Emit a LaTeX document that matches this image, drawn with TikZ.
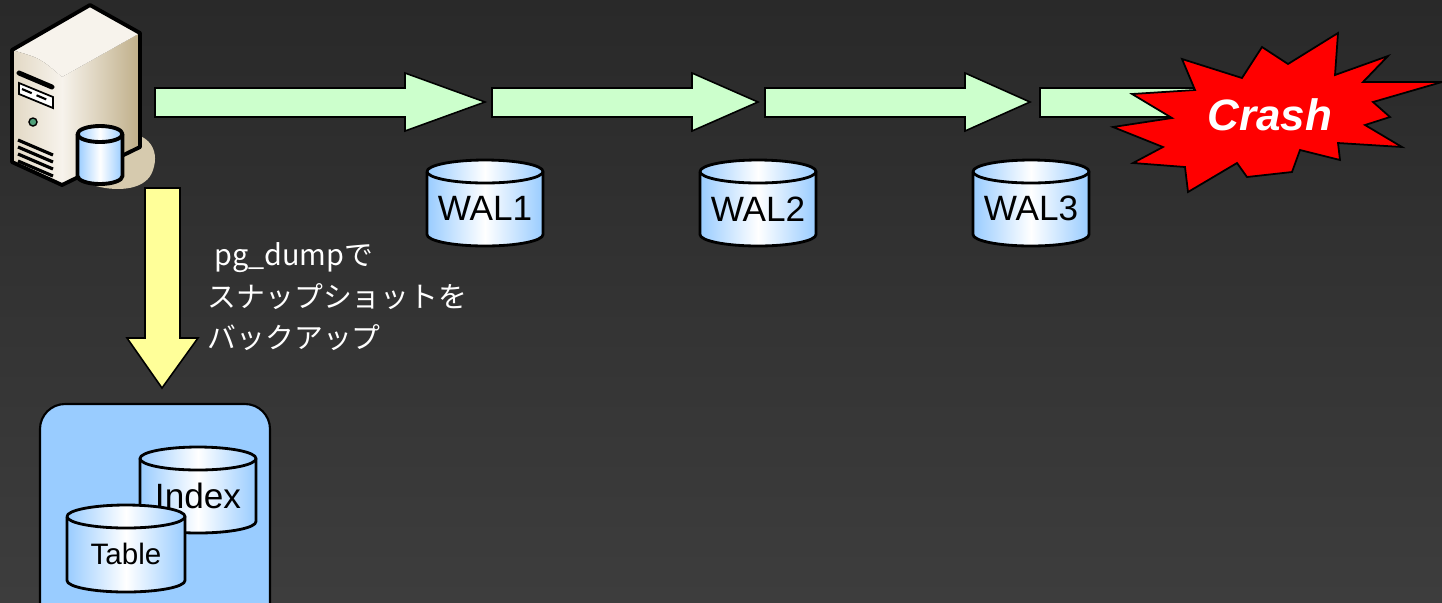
\documentclass[tikz,border=0pt]{standalone}
\usepackage{fontspec}
\setmainfont{Liberation Sans}
\newfontfamily\jpfont{Noto Sans CJK JP}
\usetikzlibrary{positioning}

\definecolor{walblue}{HTML}{99CCFF}
\definecolor{arrowgreen}{HTML}{CCFFCC}
\definecolor{arrowyellow}{HTML}{FFFF99}
\definecolor{bgtop}{HTML}{292929}
\definecolor{bgbottom}{HTML}{3D3D3D}
\definecolor{caseface}{HTML}{E2D8C4}
\definecolor{casetop}{HTML}{F7F3EC}
\definecolor{caseside}{HTML}{BFAE88}
\definecolor{caseshadow}{HTML}{D6CAAE}
\definecolor{ledgreen}{HTML}{4FA07A}

% cylinder: name, centre x, top y, width, height, ellipse radius, label
\newcommand{\dbcylinder}[7]{%
    \pgfmathsetmacro\rx{#4/2}
    \shade[diskshade] (#2-\rx,#3+#6) -- (#2-\rx,#3+#5-#6)
        arc[start angle=180, end angle=0, x radius=\rx, y radius=#6]
        -- (#2+\rx,#3+#6)
        arc[start angle=0, end angle=-180, x radius=\rx, y radius=#6] -- cycle;
    \draw[disklines] (#2-\rx,#3+#6) -- (#2-\rx,#3+#5-#6)
        arc[start angle=180, end angle=0, x radius=\rx, y radius=#6]
        -- (#2+\rx,#3+#6);
    \draw[disklines] (#2,#3+#6) ellipse[x radius=\rx, y radius=#6];
    \node[inner sep=0pt] (#1) at (#2,#3+#5/2+#6/2) {#7};
}

\begin{document}
\begin{tikzpicture}[
        x=0.01cm, y=-0.01cm,
        diskshade/.style={left color=walblue, right color=walblue, middle color=white},
        disklines/.style={line width=0.8pt, line join=round},
        greenarrow/.style={draw, fill=arrowgreen, line width=0.45pt},
        yellowarrow/.style={draw, fill=arrowyellow, line width=0.45pt},
        casebody/.style={line width=1.1pt, line join=round}
    ]
        % background
        \shade[top color=bgtop, bottom color=bgbottom] (0,0) rectangle (1442,602);
        \useasboundingbox (0,0) rectangle (1442,602);

        % server
        \fill[caseshadow] (104,134) .. controls (150,126) and (160,150) .. (153,170)
            .. controls (147,190) and (118,192) .. (96,186) -- cycle;
        \shade[left color=casetop, right color=caseside] (62,77) -- (140,33) -- (140,147) -- (62,185) -- cycle;
        \fill[casetop] (12,50) -- (90,5) -- (140,33) -- (62,77) .. controls (40,58) .. (12,50) -- cycle;
        \shade[left color=caseface, right color=casetop] (12,50) .. controls (40,58) .. (62,77) -- (62,185) -- (12,162) -- cycle;
        \draw[casebody] (12,50) -- (90,5) -- (140,33) -- (140,147) -- (62,185) -- (12,162) -- cycle;
        \draw[line width=1.4pt, line cap=round] (19,73) -- (52,87);
        \draw[fill=white, line width=0.5pt] (19,83) -- (53,97) -- (53,108) -- (19,94) -- cycle;
        \draw[line width=0.6pt, dash pattern=on 3pt off 1.5pt] (22,89) -- (50,101);
        \draw[fill=ledgreen, line width=0.4pt] (33,122) circle (4);
        \foreach \v in {0,7,14,21}
            \draw[line width=0.9pt] (18,140+\v) -- (53,155+\v);
        \begin{scope}[disklines/.style={line width=1.1pt, line join=round}]
            \dbcylinder{srvdb}{100}{126}{45}{58}{8}{}
        \end{scope}

        % log files
        \dbcylinder{wal1}{485}{160}{116}{86}{11.5}{\fontsize{10}{12}\selectfont WAL1}
        \dbcylinder{wal2}{758}{160}{116}{86}{11.5}{\fontsize{10}{12}\selectfont WAL2}
        \dbcylinder{wal3}{1031}{160}{116}{86}{11.5}{\fontsize{10}{12}\selectfont WAL3}

        % timeline arrows
        \foreach \a/\b/\c in {155/405/485, 492/692/758, 765/965/1030, 1040/1200/1260}
            \draw[greenarrow] (\a,88) -- (\b,88) -- (\b,73) -- (\c,102) -- (\b,131) -- (\b,117) -- (\a,117) -- cycle;

        % crash
        \draw[fill=red, line width=0.5pt, line join=miter]
            (1182,59) -- (1242,78) -- (1262,47) -- (1288,64) -- (1338,33) -- (1335,75)
            -- (1388,56) -- (1363,82) -- (1442,82) -- (1373,102) -- (1390,117) -- (1365,125)
            -- (1402,147) -- (1338,143) -- (1340,160) -- (1300,150) -- (1292,172) -- (1247,177)
            -- (1237,163) -- (1188,192) -- (1185,167) -- (1133,163) -- (1163,147) -- (1113,127)
            -- (1172,118) -- (1132,94) -- (1195,90) -- cycle;
        \node[text=white, font=\fontsize{12.5}{14}\selectfont\bfseries\itshape] (crash) at (1270,115) {Crash};

        % dump
        \draw[yellowarrow] (145,188) -- (180,188) -- (180,338) -- (198,338) -- (162,388) -- (127,338) -- (145,338) -- cycle;
        \node[text=white, align=left, anchor=north west, inner sep=0pt,
            font=\jpfont\fontsize{8.2}{11.8}\selectfont] (note) at (207,242)
            {~pg\_dumpで\\スナップショットを\\バックアップ};

        % backup
        \draw[fill=walblue, line width=0.6pt, rounded corners=0.25cm] (40,404) rectangle (270,640);
        \dbcylinder{index}{198}{447}{116}{86}{11.5}{\fontsize{10}{12}\selectfont Index}
        \dbcylinder{table}{126}{505}{118}{87}{11.5}{\fontsize{8.4}{10}\selectfont Table}
    \end{tikzpicture}
\end{document}
